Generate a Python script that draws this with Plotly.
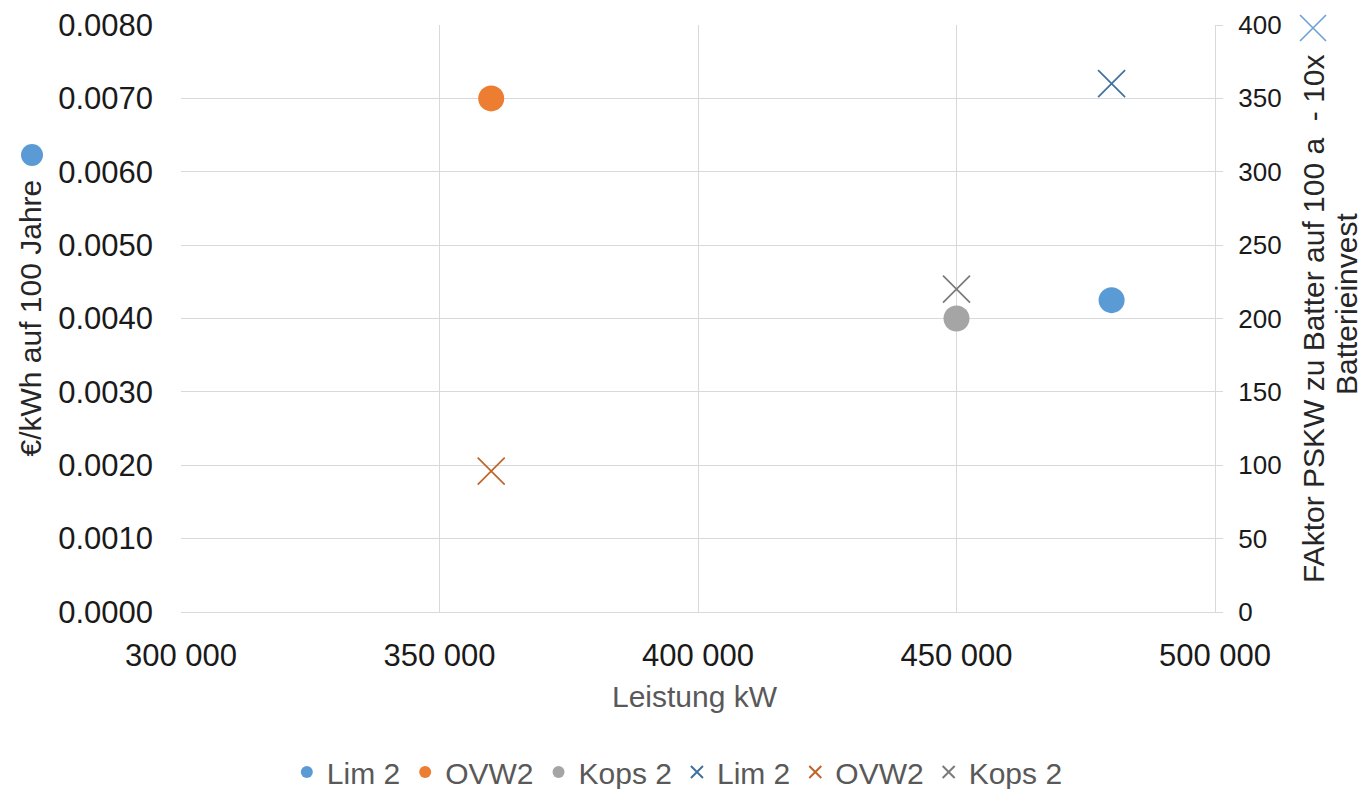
import plotly.graph_objects as go

# Plant names and installed power (kW)
plants = ["Lim 2", "OVW2", "Kops 2"]
leistung_kw = [480000, 360000, 450000]

# Cost per kWh over 100 years (left axis)
eur_per_kwh = [0.00425, 0.0070, 0.0040]

# Factor pumped storage vs. battery over 100 a (right axis)
faktor = [360, 96, 220]

circle_colors = ["#5B9BD5", "#ED7D31", "#A5A5A5"]
cross_colors = ["#41729F", "#C0652A", "#7B7B7B"]

x_ticks = [300000, 350000, 400000, 450000, 500000]

FONT = "Liberation Sans, Arial, sans-serif"

fig = go.Figure()

for name, x, y, c in zip(plants, leistung_kw, eur_per_kwh, circle_colors):
    fig.add_trace(go.Scatter(
        x=[x], y=[y], name=name, mode="markers",
        marker=dict(symbol="circle", size=26, color=c, line=dict(width=0)),
        yaxis="y",
    ))

for name, x, y, c in zip(plants, leistung_kw, faktor, cross_colors):
    fig.add_trace(go.Scatter(
        x=[x], y=[y], name=name, mode="markers",
        marker=dict(symbol="x-thin", size=27, color=c,
                    line=dict(width=1.7, color=c)),
        yaxis="y2",
    ))

grid = "#D9D9D9"

fig.update_layout(
    width=1367, height=789,
    margin=dict(l=181, r=152, t=25, b=177),
    paper_bgcolor="white", plot_bgcolor="white",
    separators=". ",
    font=dict(family=FONT, color="#1a1a1a"),
    showlegend=True,
    legend=dict(
        orientation="h", xref="paper", x=0.48, xanchor="center",
        yref="container", y=0.0215, yanchor="middle",
        font=dict(size=30, color="#595959", family=FONT),
        itemsizing="constant", traceorder="normal",
        bgcolor="rgba(0,0,0,0)",
    ),
    xaxis=dict(
        range=[300000, 500000], tickvals=x_ticks, tickformat=",d",
        showgrid=True, gridcolor=grid, gridwidth=1.3,
        showline=True, linecolor=grid, linewidth=1.3,
        zeroline=False, ticks="", ticklabelstandoff=16, automargin=False,
        tickfont=dict(size=31, color="#1a1a1a"),
    ),
    yaxis=dict(
        range=[0, 0.008], dtick=0.001, tickformat=".4f",
        showgrid=True, gridcolor=grid, gridwidth=1.3,
        showline=False, zeroline=False, ticks="", ticklabelstandoff=27,
        automargin=False,
        tickfont=dict(size=31, color="#1a1a1a"),
    ),
    yaxis2=dict(
        range=[0, 400], dtick=50, overlaying="y", side="right",
        showgrid=False, zeroline=False,
        showline=True, linecolor=grid, linewidth=1.3,
        ticks="outside", ticklen=7, tickcolor=grid, tickwidth=1.3,
        ticklabelstandoff=10, automargin=False,
        tickfont=dict(size=26, color="#1a1a1a"),
    ),
    annotations=[
        dict(text="€/kWh auf 100 Jahre", xref="paper", yref="paper",
             x=-0.146, y=0.5, xanchor="center", yanchor="middle",
             textangle=-90, showarrow=False,
             font=dict(size=30, color="#262626", family=FONT)),
        dict(text="FAktor PSKW zu Batter auf 100 a \u00a0- 10x",
             xref="paper", yref="paper",
             x=1.0948, y=0.4991, xanchor="center", yanchor="middle",
             textangle=-90, showarrow=False,
             font=dict(size=30, color="#262626", family=FONT)),
        dict(text="Batterieinvest", xref="paper", yref="paper",
             x=1.1267, y=0.5247, xanchor="center", yanchor="middle",
             textangle=-90, showarrow=False,
             font=dict(size=30, color="#262626", family=FONT)),
        dict(text="Leistung kW", xref="paper", yref="paper",
             x=0.497, y=-0.1448, xanchor="center", yanchor="middle",
             showarrow=False,
             font=dict(size=30, color="#595959", family=FONT)),
    ],
    shapes=[
        # series key attached to the left axis title
        dict(type="circle", xref="paper", yref="paper",
             xsizemode="pixel", ysizemode="pixel",
             xanchor=-0.1441, yanchor=0.7785,
             x0=-11, x1=11, y0=-11, y1=11,
             fillcolor="#5B9BD5", line=dict(width=0)),
        # series key attached to the right axis title
        dict(type="path", xref="paper", yref="paper",
             xsizemode="pixel", ysizemode="pixel",
             xanchor=1.0948, yanchor=0.9949,
             path="M-13,-13 L13,13 M-13,13 L13,-13",
             line=dict(color="#6FA3D8", width=1.7)),
    ],
)

fig.write_html("out.html")
